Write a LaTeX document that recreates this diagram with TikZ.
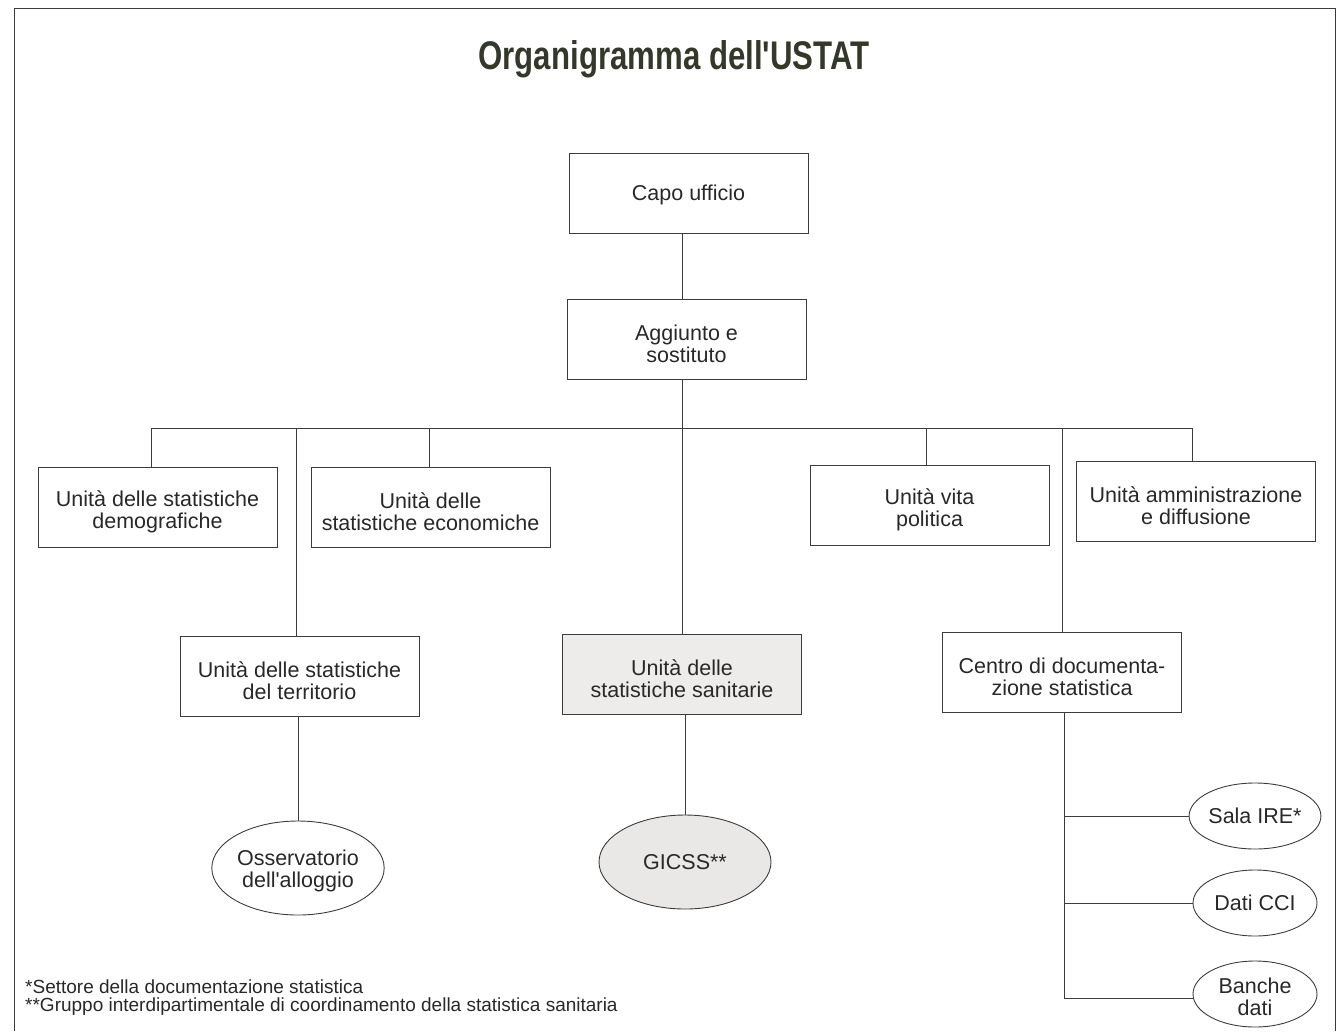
\documentclass[tikz,border=0pt]{standalone}
\usepackage{fontspec}
\usepackage{graphicx}
\setmainfont{Liberation Sans}[Ligatures=TeXOff]
\usetikzlibrary{shapes.geometric}
\definecolor{ink}{RGB}{40,40,40}
\definecolor{titlecol}{RGB}{52,56,42}
\definecolor{linecol}{RGB}{60,60,60}
\definecolor{graybox}{RGB}{238,236,234}
\definecolor{grayell}{RGB}{234,232,230}
\tikzset{
  unitbox/.style={draw=linecol, line width=0.9pt, minimum width=239pt, minimum height=80pt,
    align=center, text=ink, inner sep=0pt, text height=46.5pt, font=\fontsize{21.5}{22}\selectfont},
  bigell/.style={ellipse, draw=linecol, line width=0.9pt, minimum width=172pt, minimum height=94pt,
    align=center, text=ink, inner sep=0pt, font=\fontsize{21.5}{22}\selectfont},
  smallell/.style={ellipse, draw=linecol, line width=0.9pt, minimum width=124pt, minimum height=66pt,
    align=center, text=ink, inner sep=0pt, font=\fontsize{21.5}{22}\selectfont},
  conn/.style={draw=linecol, line width=0.9pt},
  note/.style={anchor=west, text=ink, inner sep=0pt, font=\fontsize{19}{19}\selectfont}
}
\begin{document}
\begin{tikzpicture}[x=1pt,y=-1pt]
\useasboundingbox (0,0) rectangle (1338,1031);
% frame
\draw[linecol, line width=1pt] (14,1031) -- (14,8) -- (1335,8) -- (1335,1031);
% title
\node[text=titlecol, inner sep=0pt] (title) at (674,59) {\scalebox{0.78}[1]{\fontsize{40}{40}\selectfont\bfseries Organigramma dell'USTAT}};
% boxes
\node[unitbox, text height=19.5pt] (capo) at (688.5,193) {Capo ufficio};
\node[unitbox] (agg) at (686.5,339) {Aggiunto e\\sostituto};
\node[unitbox] (demo) at (157.5,507) {Unità delle statistiche\\demografiche};
\node[unitbox] (econ) at (430.5,507) {Unità delle\\statistiche economiche};
\node[unitbox] (vita) at (929.5,505) {Unità vita\\politica};
\node[unitbox] (amm) at (1196,501) {Unità amministrazione\\e diffusione};
\node[unitbox] (terr) at (299.5,676) {Unità delle statistiche\\del territorio};
\node[unitbox, fill=graybox] (san) at (682,674.5) {Unità delle\\statistiche sanitarie};
\node[unitbox] (centro) at (1062,672) {Centro di documenta-\\zione statistica};
% ellipses
\node[bigell, text height=43.5pt] (oss) at (298,868) {Osservatorio\\dell'alloggio};
\node[bigell, fill=grayell] (gicss) at (685,862) {GICSS**};
\node[smallell] (sala) at (1255,816) {Sala IRE*};
\node[smallell] (cci) at (1255,903) {Dati CCI};
\node[smallell, text height=42.5pt] (banche) at (1255,994) {Banche\\dati};
% bus coordinates
\coordinate (bL) at (151,428);
\coordinate (bR) at (1192,428);
\coordinate (bT) at (296,428);
\coordinate (bE) at (429,428);
\coordinate (bV) at (926,428);
\coordinate (bC) at (1062,428);
\coordinate (sp) at (1064,998);
% connectors
\draw[conn] (capo.south -| san.north) -- (agg.north -| san.north);
\draw[conn] (agg.south -| san.north) -- (san.north);
\draw[conn] (bL) -- (bR);
\draw[conn] (bL) -- (bL |- demo.north);
\draw[conn] (bE) -- (bE |- econ.north);
\draw[conn] (bT) -- (bT |- terr.north);
\draw[conn] (bV) -- (bV |- vita.north);
\draw[conn] (bR) -- (bR |- amm.north);
\draw[conn] (bC) -- (centro.north);
\draw[conn] (terr.south -| oss.north) -- (oss.north);
\draw[conn] (san.south -| gicss.north) -- (gicss.north);
\draw[conn] (centro.south -| sp) -- (sp);
\draw[conn] (sala.west -| sp) -- (sala.west);
\draw[conn] (cci.west -| sp) -- (cci.west);
\draw[conn] (sp) -- (sp -| banche.west);
% footnotes
\node[note] (n1) at (25,987) {*Settore della documentazione statistica};
\node[note] (n2) at (25,1007) {**Gruppo interdipartimentale di coordinamento della statistica sanitaria};
\end{tikzpicture}
\end{document}
